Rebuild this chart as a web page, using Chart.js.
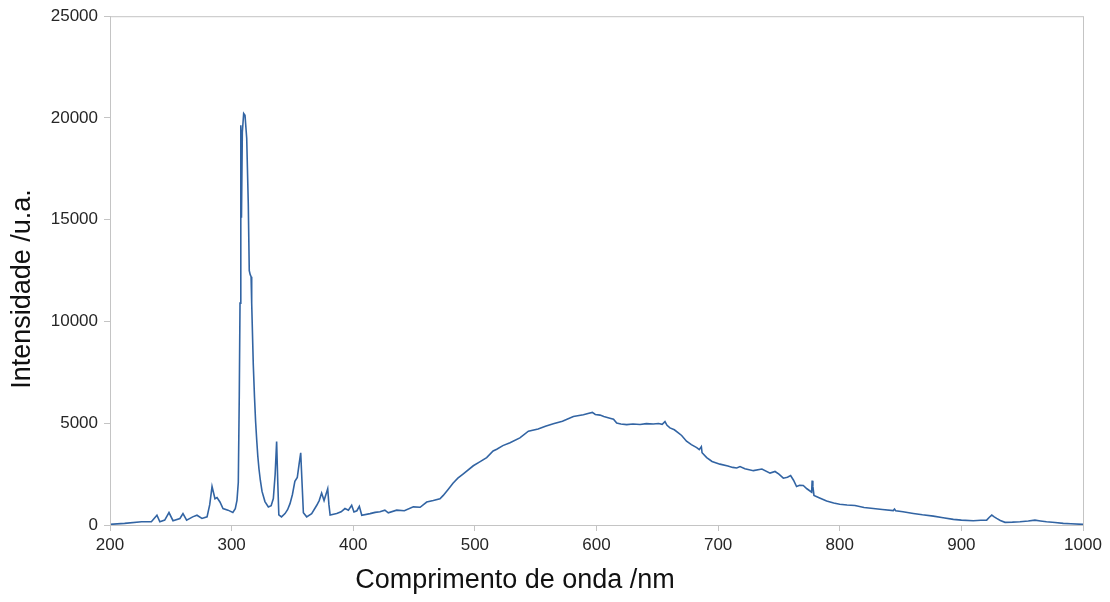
<!DOCTYPE html>
<html>
<head>
<meta charset="utf-8">
<script src="https://cdn.jsdelivr.net/npm/chart.js@4.4.0/dist/chart.umd.min.js"></script>
<style>
  html, body { margin: 0; padding: 0; background: #ffffff; }
  #wrap { width: 1110px; height: 602px; position: relative; }
</style>
</head>
<body>
<div id="wrap"><canvas id="spectrum"></canvas></div>
<script>
// Emission spectrum: wavelength (nm) and intensity (u.a.)
const wavelengths = [
  200, 212, 226, 234, 238.6, 241, 245, 248.5, 251.8, 257.5, 260, 263, 268, 271.5, 275.6, 279.8,
  282, 283.9, 286.3, 288, 290.4, 292.9, 297, 301, 303, 304.4, 305.5, 306.3, 306.9, 307.4, 307.7,
  308.1, 308.8, 309.9, 311, 312.4, 313.7, 314.5, 315.3, 316, 316.5, 317.8, 318.8, 319.7, 320.6,
  321.5, 322.5, 323.6, 325, 327.4, 330.2, 332.5, 334.3, 335.8, 337, 338, 338.8, 341, 343.9, 346,
  348, 350, 352, 354, 355.5, 356.8, 357.8, 359, 361.7, 365.8, 370, 372, 374, 376, 379, 380, 381,
  386.4, 390, 393.2, 396, 398.7, 400.6, 403, 405, 407, 413.8, 418, 422, 426, 428.8, 435.7, 442,
  449.4, 455, 460.4, 465.8, 471.3, 474, 478, 482, 486, 490.5, 498.7, 504, 509.7, 515, 518, 523,
  528.9, 537, 544, 552, 558, 564.5, 572, 581, 589.2, 593, 596.6, 599, 602.9, 606, 611, 614,
  616.6, 620, 624.8, 630, 635.8, 641, 646.7, 651, 654, 656.3, 658, 660.4, 664, 667.3, 670, 674,
  678, 682.4, 684.5, 686.2, 686.8, 690.6, 695, 701.5, 708, 712, 715.3, 718, 722, 729, 736,
  742.7, 746.8, 750, 753.6, 757, 759.6, 762, 764.5, 767, 770, 773, 776.9, 777.3, 777.9, 778.8,
  783, 789.2, 795, 800, 806, 812.5, 820, 827.6, 835, 844, 845, 846, 852, 860.5, 868, 877, 885,
  893.4, 900, 909.8, 916, 920.8, 923, 925, 927, 929, 932, 935.9, 942, 948.2, 955, 960.5, 965,
  970, 977, 983.8, 990, 1000
];
const intensities = [
  30, 80, 160, 160, 480, 160, 240, 610, 210, 320, 560, 240, 400, 480, 320, 400,
  1000, 1890, 1290, 1350, 1130, 810, 730, 620, 800, 1210, 2100, 6400, 10900, 14950, 19640,
  15100, 19300, 20220, 20130, 19000, 15760, 12500, 12300, 12200, 10900, 7900, 6300, 5100, 4200,
  3400, 2750, 2200, 1650, 1150, 890, 950, 1300, 2500, 4100, 2000, 500, 400, 560, 750,
  1050, 1500, 2150, 2340, 3000, 3550, 2200, 600, 400, 560, 970, 1200, 1570, 1200, 1780, 1000, 490,
  560, 650, 810, 730, 970, 640, 700, 920, 480, 560, 620, 650, 730, 600, 730, 700,
  890, 870, 1130, 1200, 1290, 1455, 1750, 2050, 2300, 2510, 2910, 3100, 3310, 3640, 3720, 3900,
  4040, 4280, 4610, 4720, 4850, 4980, 5100, 5335, 5420, 5480, 5530, 5430, 5400, 5330, 5250, 5200,
  5010, 4960, 4930, 4960, 4940, 4980, 4960, 4990, 4950, 5080, 4900, 4770, 4680, 4530, 4400, 4120,
  3950, 3800, 3700, 3850, 3550, 3310, 3120, 2990, 2900, 2830, 2800, 2870, 2760, 2670, 2750,
  2550, 2630, 2500, 2300, 2350, 2425, 2200, 1890, 1950, 1940, 1780, 1615, 2180, 1900, 1455,
  1340, 1180, 1080, 1020, 980, 955, 860, 810, 760, 710, 780, 700, 650, 565, 500, 435, 360,
  275, 240, 210, 230, 240, 380, 485, 400, 325, 220, 130, 140, 160, 200, 240, 200,
  160, 120, 80, 60, 30
];

const xTicks = [200, 300, 400, 500, 600, 700, 800, 900, 1000];
const yTicks = [0, 5000, 10000, 15000, 20000, 25000];

const xTitle = "Comprimento de onda /nm";
const yTitle = "Intensidade /u.a.";

const lineColor = "#3264a3";
const frameColor = "#c4c4c4";
const textColor = "#262626";
const fontFamily = "'Liberation Sans', Arial, sans-serif";

// Box round the plot area plus the two axis titles
const framePlugin = {
  id: "frame",
  afterDraw(chart) {
    const { ctx, chartArea } = chart;
    ctx.save();
    ctx.strokeStyle = frameColor;
    ctx.lineWidth = 1;
    ctx.strokeRect(chartArea.left + 0.5, chartArea.top + 0.5,
      chartArea.right - chartArea.left, chartArea.bottom - chartArea.top);

    ctx.fillStyle = "#111111";
    ctx.font = "27px " + fontFamily;
    ctx.textAlign = "center";
    ctx.textBaseline = "middle";
    ctx.fillText(xTitle, 515, 581);

    ctx.translate(23, 289);
    ctx.rotate(-Math.PI / 2);
    ctx.fillText(yTitle, 0, 0);
    ctx.restore();
  },
};

function initChart() {
  const ctx = document.getElementById("spectrum").getContext("2d");
  const points = wavelengths.map((w, i) => ({ x: w, y: intensities[i] }));

  new Chart(ctx, {
    type: "line",
    data: {
      datasets: [
        {
          data: points,
          borderColor: lineColor,
          borderWidth: 1.6,
          pointRadius: 0,
          tension: 0,
          fill: false,
        },
      ],
    },
    options: {
      responsive: true,
      maintainAspectRatio: false,
      animation: false,
      layout: { padding: { top: 10, right: 27, left: 0, bottom: 0 } },
      plugins: {
        legend: { display: false },
        tooltip: { enabled: false },
      },
      scales: {
        x: {
          type: "linear",
          min: 200,
          max: 1000,
          afterBuildTicks: (scale) => {
            scale.ticks = xTicks.map((v) => ({ value: v }));
          },
          afterFit: (scale) => {
            scale.height = 77;
          },
          grid: {
            drawOnChartArea: false,
            drawTicks: true,
            tickLength: 6,
            color: frameColor,
          },
          border: { display: true, color: frameColor },
          ticks: {
            color: textColor,
            font: { family: fontFamily, size: 17 },
            padding: 4,
            maxRotation: 0,
            callback: (v) => String(v),
          },
        },
        y: {
          min: 0,
          max: 25000,
          afterBuildTicks: (scale) => {
            scale.ticks = yTicks.map((v) => ({ value: v }));
          },
          afterFit: (scale) => {
            scale.width = 110;
          },
          grid: {
            drawOnChartArea: false,
            drawTicks: true,
            tickLength: 6,
            color: frameColor,
          },
          border: { display: true, color: frameColor },
          ticks: {
            color: textColor,
            font: { family: fontFamily, size: 17 },
            padding: 6,
            callback: (v) => String(v),
          },
        },
      },
    },
    plugins: [framePlugin],
  });
}

document.addEventListener("DOMContentLoaded", initChart);
</script>
</body>
</html>
